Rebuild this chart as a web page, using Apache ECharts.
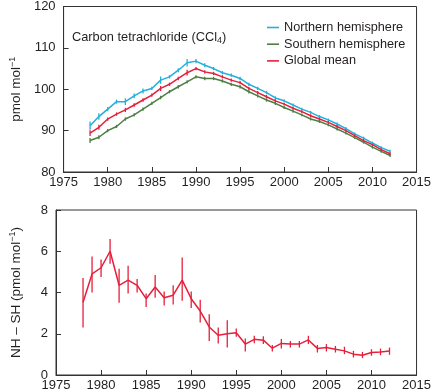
<!DOCTYPE html>
<html>
<head>
<meta charset="utf-8">
<script src="https://cdn.jsdelivr.net/npm/echarts@6/dist/echarts.min.js"></script>
<style>
  html, body { margin: 0; padding: 0; background: #fff; }
  #chart { width: 434px; height: 392px; }
</style>
</head>
<body>
<div id="chart"></div>
<script>
// years of the annual means
const years = [1978, 1979, 1980, 1981, 1982, 1983, 1984, 1985, 1986, 1987, 1988, 1989,
  1990, 1991, 1992, 1993, 1994, 1995, 1996, 1997, 1998, 1999, 2000, 2001, 2002, 2003,
  2004, 2005, 2006, 2007, 2008, 2009, 2010, 2011, 2012];

// CCl4 mole fractions, pmol/mol
const nhMean = [91.2, 93.4, 95.2, 97.0, 97.0, 98.4, 99.6, 100.2, 102.2, 103.0, 104.6, 106.4,
  106.8, 105.8, 105.0, 104.0, 103.4, 102.6, 101.2, 100.2, 99.2, 97.9, 97.2, 96.2, 95.2, 94.4,
  93.4, 92.6, 91.6, 90.5, 89.2, 88.2, 87.0, 85.9, 85.0];
const shMean = [87.6, 88.4, 90.0, 91.0, 92.8, 93.8, 95.2, 96.6, 98.0, 99.4, 100.6, 101.8,
  103.0, 102.6, 102.6, 102.0, 101.2, 100.6, 99.4, 98.4, 97.4, 96.6, 95.6, 94.7, 93.8, 92.8,
  92.2, 91.4, 90.4, 89.4, 88.3, 87.2, 86.0, 85.0, 84.0];
const globalMean = [89.4, 90.8, 92.8, 94.0, 95.0, 96.2, 97.4, 98.6, 100.2, 101.2, 102.6, 104.0,
  105.0, 104.2, 103.8, 103.0, 102.2, 101.6, 100.2, 99.2, 98.2, 97.2, 96.4, 95.4, 94.6, 93.6,
  92.8, 92.0, 91.0, 90.0, 88.8, 87.6, 86.6, 85.4, 84.4];

// half widths of the error bars
const nhErr = [1.0, 0.8, 0.5, 0.5, 0.8, 0.6, 0.6, 0.4, 0.9, 0.4, 0.5, 0.9,
  0.5, 0.5, 0.4, 0.4, 0.4, 0.4, 0.4, 0.4, 0.4, 0.4, 0.35, 0.35, 0.35, 0.35,
  0.35, 0.35, 0.35, 0.35, 0.35, 0.35, 0.35, 0.35, 0.35];
const shErr = [0.6, 0.5, 0.4, 0.4, 0.4, 0.4, 0.4, 0.4, 0.4, 0.4, 0.4, 0.4,
  0.4, 0.4, 0.4, 0.4, 0.4, 0.4, 0.4, 0.4, 0.4, 0.4, 0.35, 0.35, 0.35, 0.35,
  0.35, 0.35, 0.35, 0.35, 0.35, 0.35, 0.35, 0.35, 0.35];
const globalErr = [0.7, 0.6, 0.4, 0.4, 0.5, 0.4, 0.4, 0.4, 0.6, 0.4, 0.4, 0.7,
  0.4, 0.4, 0.4, 0.4, 0.4, 0.4, 0.4, 0.4, 0.4, 0.4, 0.35, 0.35, 0.35, 0.35,
  0.35, 0.35, 0.35, 0.35, 0.35, 0.35, 0.35, 0.35, 0.35];

// NH - SH difference with error range
const diff = [3.53, 4.9, 5.2, 6.0, 4.35, 4.6, 4.35, 3.7, 4.27, 3.75, 3.87, 4.6,
  3.7, 3.1, 2.33, 1.93, 2.0, 2.05, 1.5, 1.73, 1.69, 1.3, 1.53, 1.5, 1.5, 1.7,
  1.29, 1.33, 1.25, 1.17, 1.01, 0.96, 1.09, 1.12, 1.16];
const diffHi = [4.7, 5.75, 5.6, 6.6, 5.15, 5.3, 4.65, 3.95, 4.85, 4.05, 4.35, 5.7,
  4.05, 3.65, 2.95, 2.3, 2.65, 2.25, 1.77, 1.9, 1.88, 1.46, 1.75, 1.65, 1.65, 1.9,
  1.46, 1.5, 1.41, 1.37, 1.17, 1.12, 1.25, 1.28, 1.33];
const diffLo = [2.3, 4.0, 4.75, 5.4, 3.5, 3.95, 4.0, 3.3, 3.75, 3.37, 3.42, 3.6,
  3.25, 2.55, 1.65, 1.53, 1.33, 1.85, 1.14, 1.54, 1.5, 1.14, 1.29, 1.33, 1.33, 1.5,
  1.09, 1.14, 1.09, 1.01, 0.85, 0.82, 0.93, 0.96, 0.98];

const xTicks = { min: 1975, max: 2015, interval: 5 };

const FONT = 'Liberation Sans';
const FS = 13;
const TXT = '#231f20';
const CYAN = '#22b0dc';
const GREEN = '#4e7d45';
const RED = '#e5203c';

const myChart = echarts.init(document.getElementById('chart'));

// vertical error bar drawn on the axes of its grid
function errBars(color) {
    return function (params, api) {
        const a = api.coord([api.value(0), api.value(1)]);
        const b = api.coord([api.value(0), api.value(2)]);
        return {
            type: 'line',
            shape: { x1: a[0], y1: a[1], x2: b[0], y2: b[1] },
            style: { stroke: color, lineWidth: 1.3 }
        };
    };
}

function lineSeries(name, vals, color, idx) {
    return {
        name: name,
        type: 'line',
        xAxisIndex: idx, yAxisIndex: idx,
        data: years.map((y, i) => [y, vals[i]]),
        symbol: 'none',
        lineStyle: { color: color, width: 1.5 },
        itemStyle: { color: color },
        z: 3,
        silent: true
    };
}

function errSeries(lo, hi, color, idx) {
    return {
        type: 'custom',
        xAxisIndex: idx, yAxisIndex: idx,
        data: years.map((y, i) => [y, lo(i), hi(i)]),
        renderItem: errBars(color),
        z: 2,
        silent: true
    };
}

const xAxisBase = (idx) => ({
    type: 'value',
    gridIndex: idx,
    min: xTicks.min, max: xTicks.max, interval: xTicks.interval,
    axisLine: { show: true, lineStyle: { color: '#333', width: 1 } },
    axisTick: { show: true, inside: true, length: 5, lineStyle: { color: '#333' } },
    axisLabel: { color: TXT, fontFamily: FONT, fontSize: FS, margin: 4, formatter: v => String(v) },
    splitLine: { show: false }
});

const yAxisBase = (idx, lo, hi, step, name) => ({
    type: 'value', gridIndex: idx, min: lo, max: hi, interval: step,
    name: name,
    nameLocation: 'middle', nameGap: 32,
    nameTextStyle: {
        rich: {
            a: { fontFamily: FONT, fontSize: 13.5, color: TXT },
            s: { fontFamily: FONT, fontSize: 9, color: TXT, padding: [0, 0, 7, 0] }
        }
    },
    axisLine: { show: true, lineStyle: { color: '#333' } },
    axisTick: { show: true, inside: true, length: 5, lineStyle: { color: '#333' } },
    axisLabel: { color: TXT, fontFamily: FONT, fontSize: FS, margin: 8 },
    splitLine: { show: false }
});

const legendNames = ['Northern hemisphere', 'Southern hemisphere', 'Global mean'];

const option = {
    animation: false,
    backgroundColor: '#fff',
    title: {
        text: '{a|Carbon tetrachloride (CCl}{s|4}{a|)}',
        left: 67, top: 24,
        textStyle: {
            rich: {
                a: { fontFamily: FONT, fontSize: 12.8, color: TXT, fontWeight: 'normal' },
                s: { fontFamily: FONT, fontSize: 9, color: TXT, fontWeight: 'normal', padding: [7, 0, 0, 0] }
            }
        }
    },
    legend: {
        orient: 'vertical',
        left: 262, top: 15,
        icon: 'rect',
        itemWidth: 12, itemHeight: 1.6, itemGap: 1.7,
        data: legendNames,
        textStyle: { fontFamily: FONT, fontSize: 12.7, color: TXT, lineHeight: 15, padding: [0, 0, 0, 0] }
    },
    grid: [
        { left: 51, right: 16, top: 5, height: 167, show: true, borderColor: '#333', borderWidth: 1 },
        { left: 51, right: 16, top: 210, height: 166, show: true, borderColor: '#333', borderWidth: 1 }
    ],
    xAxis: [xAxisBase(0), xAxisBase(1)],
    yAxis: [
        yAxisBase(0, 80, 120, 10, '{a|pmol mol}{s|−1}'),
        yAxisBase(1, 0, 8, 2, '{a|NH – SH (pmol mol}{s|−1}{a|)}')
    ],
    series: [
        errSeries(i => shMean[i] - shErr[i], i => shMean[i] + shErr[i], GREEN, 0),
        errSeries(i => nhMean[i] - nhErr[i], i => nhMean[i] + nhErr[i], CYAN, 0),
        errSeries(i => globalMean[i] - globalErr[i], i => globalMean[i] + globalErr[i], RED, 0),
        lineSeries('Northern hemisphere', nhMean, CYAN, 0),
        lineSeries('Southern hemisphere', shMean, GREEN, 0),
        lineSeries('Global mean', globalMean, RED, 0),
        errSeries(i => diffLo[i], i => diffHi[i], RED, 1),
        lineSeries('NH - SH', diff, RED, 1)
    ]
};

myChart.setOption(option);
</script>
</body>
</html>
